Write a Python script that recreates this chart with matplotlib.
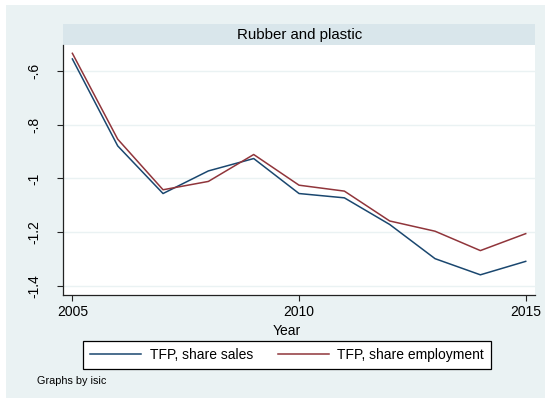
import numpy as np
import matplotlib
matplotlib.use("Agg")
from matplotlib import pyplot as plt
from matplotlib.patches import Rectangle

plt.rcParams['font.family'] = ['Liberation Sans', 'DejaVu Sans']

# data
years = [2005, 2006, 2007, 2008, 2009, 2010, 2011, 2012, 2013, 2014, 2015]
tfpSales = [-0.556, -0.879, -1.056, -0.972, -0.926, -1.056, -1.072, -1.171, -1.298, -1.358, -1.308]
tfpEmployment = [-0.535, -0.854, -1.042, -1.011, -0.911, -1.025, -1.047, -1.158, -1.196, -1.268, -1.205]
yTicks = [-0.6, -0.8, -1.0, -1.2, -1.4]
yTickLabels = ['-.6', '-.8', '-1', '-1.2', '-1.4']
xTicks = [2005, 2010, 2015]
panelTitle = 'Rubber and plastic'

W, H = 545, 398
bg = '#EAF2F3'
stripColor = '#D9E6EB'
navy = '#1A476F'
maroon = '#90353B'


def fx(px):
    return px / W


def fy(py):
    return 1 - py / H


fig = plt.figure(figsize=(W / 100, H / 100), dpi=100, facecolor='white')

# outer graph region (small white margin on top/left)
fig.patches.append(Rectangle((fx(6), 0), 1 - fx(6), fy(5), transform=fig.transFigure,
                             facecolor=bg, edgecolor='none', zorder=-2))

left, right, top, bottom = 63.3, 535, 44.7, 295
ax = fig.add_axes([fx(left), fy(bottom), fx(right - left), fy(top) - fy(bottom)])
ax.set_facecolor('white')
ax.set_zorder(2)

# title strip
fig.patches.append(Rectangle((fx(left), fy(top)), fx(right - left), fy(24) - fy(top),
                             transform=fig.transFigure, facecolor=stripColor,
                             edgecolor='none', zorder=-1))
fig.text(fx((left + right) / 2), fy(34.5), panelTitle, ha='center', va='center', fontsize=10.8)

ax.plot(years, tfpSales, color=navy, lw=1.1, label='TFP, share sales')
ax.plot(years, tfpEmployment, color=maroon, lw=1.1, label='TFP, share employment')

ax.set_xlim(2004.80, 2015.205)
ax.set_ylim(-1.433, -0.503)
ax.set_xticks(xTicks)
ax.set_yticks(yTicks)
ax.set_yticklabels(yTickLabels, rotation=90, va='center')
ax.grid(axis='y', color=bg, lw=1.0)
ax.set_axisbelow(True)

for s in ['top', 'right']:
    ax.spines[s].set_visible(False)
for s in ['left', 'bottom']:
    ax.spines[s].set_color('#222222')
    ax.spines[s].set_linewidth(0.9)
ax.tick_params(axis='both', direction='out', length=4.0, width=0.8, color='#222222',
               labelsize=10, labelcolor='black')
ax.tick_params(axis='y', pad=11.5)
ax.tick_params(axis='x', pad=3.5)

fig.text(fx(287), fy(330.7), 'Year', ha='center', va='center', fontsize=10)

leg = fig.legend(*ax.get_legend_handles_labels(), loc='center',
                 bbox_to_anchor=(fx(287), fy(355.3)), ncol=2, fontsize=10,
                 frameon=True, fancybox=False, shadow=False, handlelength=3.7,
                 handletextpad=0.6, columnspacing=1.8, borderpad=0.5,
                 borderaxespad=0)
leg.get_frame().set_edgecolor('black')
leg.get_frame().set_linewidth(0.9)
leg.get_frame().set_facecolor('white')
leg.get_frame().set_alpha(1)
leg.set_zorder(5)

fig.text(fx(36.7), fy(380.7), 'Graphs by isic', ha='left', va='center', fontsize=7.8)

fig.savefig('out.png', dpi=100, facecolor=fig.get_facecolor())
